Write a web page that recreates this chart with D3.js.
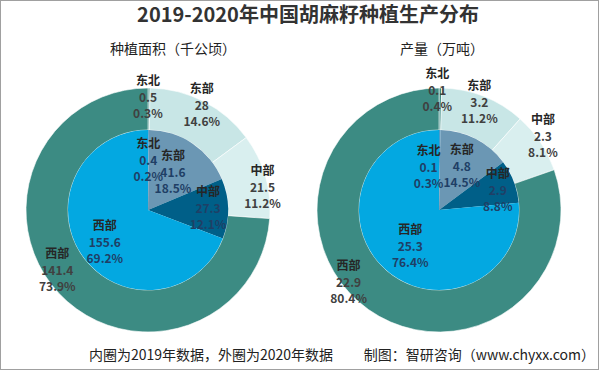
<!DOCTYPE html>
<html>
<head>
<meta charset="utf-8">
<script src="https://cdn.jsdelivr.net/npm/d3@7"></script>
<style>
  body { margin: 0; background: #fff; }
  svg text { font-family: "Noto Sans CJK SC", "Noto Sans", sans-serif; }
</style>
</head>
<body>
<svg id="mainsvg" width="599" height="370"></svg>
<script>
// data
var regions = ['东北', '东部', '中部', '西部'];
var area2019 = [0.4, 41.6, 27.3, 155.6];
var area2019Pct = ['0.2%', '18.5%', '12.1%', '69.2%'];
var area2020 = [0.5, 28, 21.5, 141.4];
var area2020Pct = ['0.3%', '14.6%', '11.2%', '73.9%'];
var output2019 = [0.1, 4.8, 2.9, 25.3];
var output2019Pct = ['0.3%', '14.5%', '8.8%', '76.4%'];
var output2020 = [0.1, 3.2, 2.3, 22.9];
var output2020Pct = ['0.4%', '11.2%', '8.1%', '80.4%'];

var innerColors = ['#4a9ccc', '#6b97b4', '#005f88', '#03a8e1'];
var outerColors = ['#3c8b83', '#c8e6e6', '#d9efef', '#3c8b83'];

var svg = d3.select('#mainsvg'),
    W = +svg.attr('width'), H = +svg.attr('height');

svg.append('rect')
    .attr('x', 0.5).attr('y', 0.5)
    .attr('width', W - 1).attr('height', H - 1)
    .attr('fill', '#fff').attr('stroke', '#a0a0a0');

svg.append('text')
    .attr('x', 308).attr('y', 22)
    .attr('text-anchor', 'middle')
    .style('font-size', '20px').style('font-weight', 'bold')
    .attr('fill', '#333')
    .text('2019-2020年中国胡麻籽种植生产分布');

var pie = d3.pie().sort(null).value(d => d);
var rIn = 80, rOut = 122, labelR = {inner: 50, outer: 113};

// label nudges (px) after placing on the arc mid angle
var nudges = {
  left: { outer: [[-1, 0], [2, -4], [6, 9], [-8, -17]],
          inner: [[0, 0], [-3, 4], [10, -1], [-2, 4]] },
  right: { outer: [[-3, -7], [-1, -2], [10, -11], [-25, -20]],
           inner: [[-11, 7], [0, 1], [12, -2], [5, 0]] }
};

function drawDonut(side, cx, cy, title, titleX, inVals, inPct, outVals, outPct) {
  var g = svg.append('g').attr('transform', 'translate(' + cx + ',' + cy + ')');

  svg.append('text')
      .attr('x', titleX).attr('y', 54)
      .attr('text-anchor', 'middle')
      .style('font-size', '14px')
      .attr('fill', '#222')
      .text(title);

  var outerArc = d3.arc().innerRadius(rIn).outerRadius(rOut);
  var innerArc = d3.arc().innerRadius(0).outerRadius(rIn);

  var outArcs = pie(outVals), inArcs = pie(inVals);

  g.append('g').selectAll('path')
      .data(outArcs).enter().append('path')
      .attr('d', outerArc)
      .attr('fill', (d, i) => outerColors[i])
      .attr('stroke', '#fff').attr('stroke-width', 0.6);

  g.append('g').selectAll('path')
      .data(inArcs).enter().append('path')
      .attr('d', innerArc)
      .attr('fill', (d, i) => innerColors[i]);

  function labels(arcs, vals, pcts, ring, valColor) {
    var r = labelR[ring];
    var lab = d3.arc().innerRadius(r).outerRadius(r);
    var grp = g.append('g').selectAll('g')
        .data(arcs).enter().append('g')
        .attr('transform', function (d, i) {
          var c = lab.centroid(d), n = nudges[side][ring][i];
          return 'translate(' + (c[0] + n[0]) + ',' + (c[1] + n[1]) + ')';
        })
        .attr('text-anchor', 'middle');
    grp.append('text').attr('y', -12.5)
        .style('font-size', '12px').style('font-weight', 'bold')
        .attr('fill', '#262626')
        .text((d, i) => regions[i]);
    grp.append('text').attr('y', 4.5)
        .style('font-size', '12px').style('font-weight', 'bold')
        .attr('fill', valColor)
        .text((d, i) => vals[i]);
    grp.append('text').attr('y', 20.5)
        .style('font-size', '12px').style('font-weight', 'bold')
        .attr('fill', valColor)
        .text((d, i) => pcts[i]);
  }

  labels(outArcs, outVals, outPct, 'outer', '#404040');
  labels(inArcs, inVals, inPct, 'inner', '#1f3f66');
}

drawDonut('left', 148, 210, '种植面积（千公顷）', 173, area2019, area2019Pct, area2020, area2020Pct);
drawDonut('right', 439, 210, '产量（万吨）', 442, output2019, output2019Pct, output2020, output2020Pct);

svg.append('text')
    .attr('x', 211).attr('y', 360)
    .attr('text-anchor', 'middle')
    .style('font-size', '14px').attr('fill', '#222')
    .text('内圈为2019年数据，外圈为2020年数据');

svg.append('text')
    .attr('x', 595).attr('y', 360)
    .attr('text-anchor', 'end')
    .style('font-size', '14px').attr('fill', '#222')
    .text('制图：智研咨询（www.chyxx.com）');
</script>
</body>
</html>
